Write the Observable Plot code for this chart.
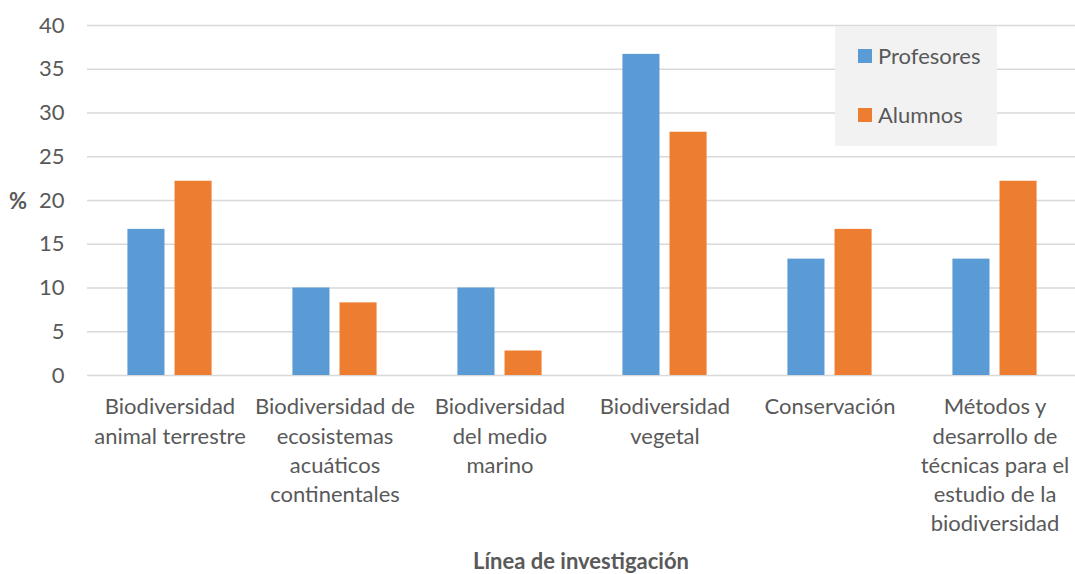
<!DOCTYPE html>
<html>
<head>
<meta charset="utf-8">
<script src="https://cdn.jsdelivr.net/npm/d3@7"></script>
<script src="https://cdn.jsdelivr.net/npm/@observablehq/plot@0.6"></script>
<style>
  html, body { margin: 0; padding: 0; background: #fff; }
  #wrap { position: relative; width: 1075px; height: 574px; font-family: Lato, sans-serif; color: #595959; overflow: hidden; }
  #wrap svg { position: absolute; left: 0; top: 0; }
  .legend { position: absolute; left: 835px; top: 26px; width: 162px; height: 120px; background: #f2f2f2; }
  .legend .item { position: absolute; left: 23px; display: flex; align-items: center; font-size: 22px; line-height: 22px; }
  .legend .sw { width: 14px; height: 14px; margin-right: 6px; }
  .ylab { position: absolute; left: 9px; top: 187px; font-weight: bold; font-size: 22px; }
  .xlab { position: absolute; left: 87px; width: 988px; top: 547px; text-align: center; font-weight: bold; font-size: 22px; }
</style>
</head>
<body>
<div id="wrap"></div>
<script>
const categories = [
  "Biodiversidad\nanimal terrestre",
  "Biodiversidad de\necosistemas\nacuáticos\ncontinentales",
  "Biodiversidad\ndel medio\nmarino",
  "Biodiversidad\nvegetal",
  "Conservación",
  "Métodos y\ndesarrollo de\ntécnicas para el\nestudio de la\nbiodiversidad"
];
const series = ["Profesores", "Alumnos"];
const profesores = [16.7, 10.0, 10.0, 36.7, 13.3, 13.3];
const alumnos = [22.2, 8.3, 2.8, 27.8, 16.7, 22.2];
const yTicks = [0, 5, 10, 15, 20, 25, 30, 35, 40];
const colors = ["#5B9BD5", "#ED7D31"];

const rows = [];
categories.forEach((c, i) => {
  rows.push({cat: c, serie: series[0], value: profesores[i]});
  rows.push({cat: c, serie: series[1], value: alumnos[i]});
});

const chart = Plot.plot({
  width: 1075,
  height: 574,
  marginTop: 25,
  marginBottom: 199,
  marginLeft: 87,
  marginRight: -2,
  style: {fontFamily: "Lato, sans-serif", fontSize: "22px", color: "#595959", background: "transparent", overflow: "visible"},
  fx: {domain: categories, padding: 0, round: false, label: null, axis: null},
  x: {domain: series, paddingInner: 0.213, paddingOuter: 0.858, round: false, axis: null},
  y: {domain: [0, 40], label: null},
  color: {domain: series, range: colors},
  marks: [
    Plot.gridY(yTicks, {stroke: "#d9d9d9", strokeOpacity: 1, strokeWidth: 1.5}),
    Plot.barY(rows, {fx: "cat", x: "serie", y: "value", fill: "serie"}),
    Plot.axisY({ticks: yTicks, tickSize: 0, tickPadding: 23, label: null, fontSize: 22, fill: "#595959"}),
    Plot.axisFx({anchor: "bottom", tickSize: 0, tickPadding: 18, label: null, fontSize: 22, lineHeight: 1.33, fill: "#595959"})
  ]
});

const wrap = document.getElementById("wrap");
wrap.appendChild(chart);

const legend = document.createElement("div");
legend.className = "legend";
series.forEach((s, i) => {
  const it = document.createElement("div");
  it.className = "item";
  it.style.top = (i === 0 ? 19 : 78) + "px";
  it.innerHTML = `<span class="sw" style="background:${colors[i]}"></span><span>${s}</span>`;
  legend.appendChild(it);
});
wrap.appendChild(legend);

const yl = document.createElement("div");
yl.className = "ylab"; yl.textContent = "%";
wrap.appendChild(yl);
const xl = document.createElement("div");
xl.className = "xlab"; xl.textContent = "Línea de investigación";
wrap.appendChild(xl);
</script>
</body>
</html>
